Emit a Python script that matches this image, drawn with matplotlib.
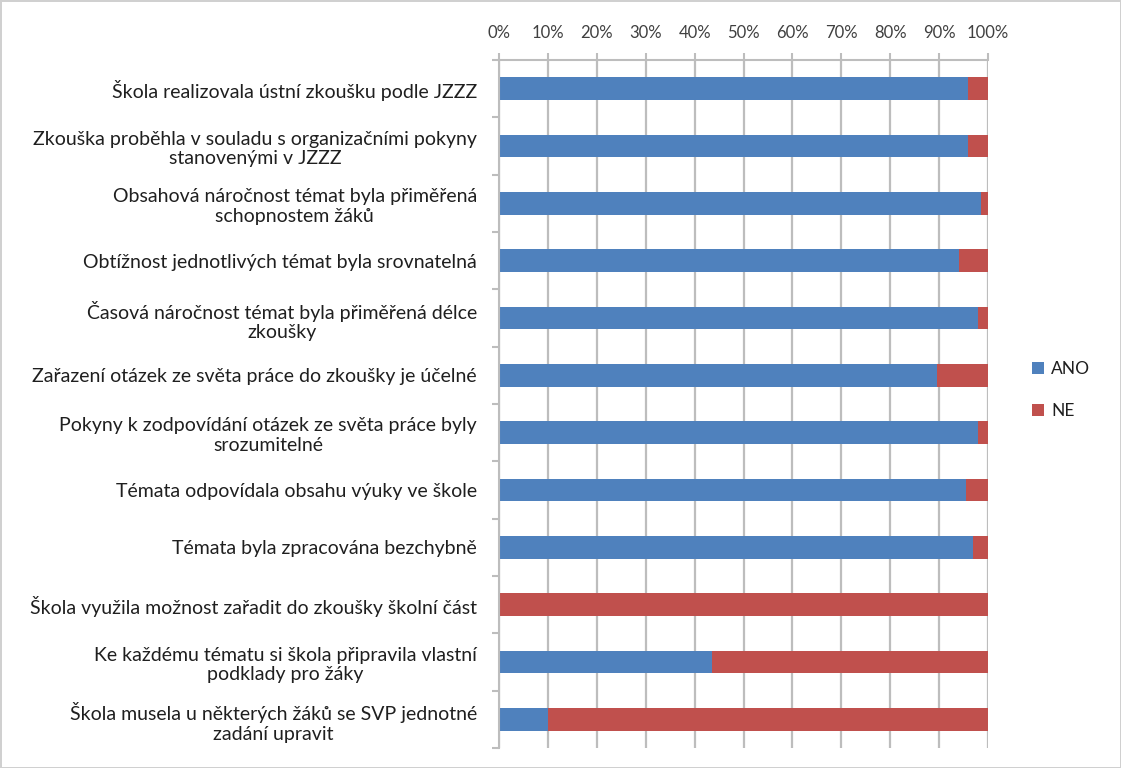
import matplotlib.pyplot as plt
import numpy as np
from matplotlib.ticker import FixedLocator, PercentFormatter

plt.rcParams['font.family'] = ['Lato', 'DejaVu Sans']

# otázky (odshora dolů)
kategorie = [
    "Škola realizovala ústní zkoušku podle JZZZ",
    "Zkouška proběhla v souladu s organizačními pokyny\nstanovenými v JZZZ",
    "Obsahová náročnost témat byla přiměřená\nschopnostem žáků",
    "Obtížnost jednotlivých témat byla srovnatelná",
    "Časová náročnost témat byla přiměřená délce\nzkoušky",
    "Zařazení otázek ze světa práce do zkoušky je účelné",
    "Pokyny k zodpovídání otázek ze světa práce byly\nsrozumitelné",
    "Témata odpovídala obsahu výuky ve škole",
    "Témata byla zpracována bezchybně",
    "Škola využila možnost zařadit do zkoušky školní část",
    "Ke každému tématu si škola připravila vlastní\npodklady pro žáky",
    "Škola musela u některých žáků se SVP jednotné\nzadání upravit",
]

# podíly odpovědí v %
ano = [96, 96, 98.5, 94, 98, 89.5, 98, 95.5, 97, 0, 43.5, 10]
ne = [100 - a for a in ano]
procenta = np.arange(0, 101, 10)

modra = '#4F81BD'
cervena = '#C0504D'
seda = '#BDBDBD'
text_barva = '#1F1F1F'

fig = plt.figure(figsize=(11.21, 7.68), dpi=100)
# rámeček kolem celého grafu
fig.patch.set_edgecolor('#D0D0D0')
fig.patch.set_linewidth(2)

ax = fig.add_axes([499 / 1121, 1 - 748 / 768, 489 / 1121, 688 / 768])
n = len(kategorie)
y = np.arange(n)

ax.barh(y, ano, height=0.4, color=modra, label='ANO', zorder=2)
ax.barh(y, ne, left=ano, height=0.4, color=cervena, label='NE', zorder=2)

ax.set_xlim(0, 100)
ax.set_ylim(-0.5, n - 0.5)
ax.invert_yaxis()

# osa x nahoře + svislá mřížka
ax.xaxis.tick_top()
ax.set_xticks(procenta)
ax.xaxis.set_major_formatter(PercentFormatter(decimals=0))
ax.tick_params(axis='x', length=5, width=1.5, color=seda, pad=9,
               labelsize=12, labelcolor='#404040')
ax.grid(True, axis='x', color=seda, linewidth=1.6)
ax.set_axisbelow(True)

# osa y
ax.set_yticks(y)
ax.set_yticklabels(kategorie)
ax.yaxis.set_minor_locator(FixedLocator(np.arange(-0.5, n, 1)))
ax.tick_params(axis='y', which='major', length=0, pad=16, labelsize=14, labelcolor=text_barva)
ax.tick_params(axis='y', which='minor', length=5, color=seda, width=1.5)
for lbl in ax.get_yticklabels():
    lbl.set_multialignment('center')

for s in ['right', 'bottom']:
    ax.spines[s].set_visible(False)
for s in ['left', 'top']:
    ax.spines[s].set_color(seda)
    ax.spines[s].set_linewidth(1.5)

fig.legend(loc='center left', bbox_to_anchor=(1032 / 1121, 1 - 390 / 768),
           frameon=False, fontsize=12.5, handlelength=0.7, handleheight=0.7,
           handletextpad=0.4, labelspacing=1.5, labelcolor=text_barva,
           borderaxespad=0, borderpad=0)

fig.savefig('out.png', dpi=100)
